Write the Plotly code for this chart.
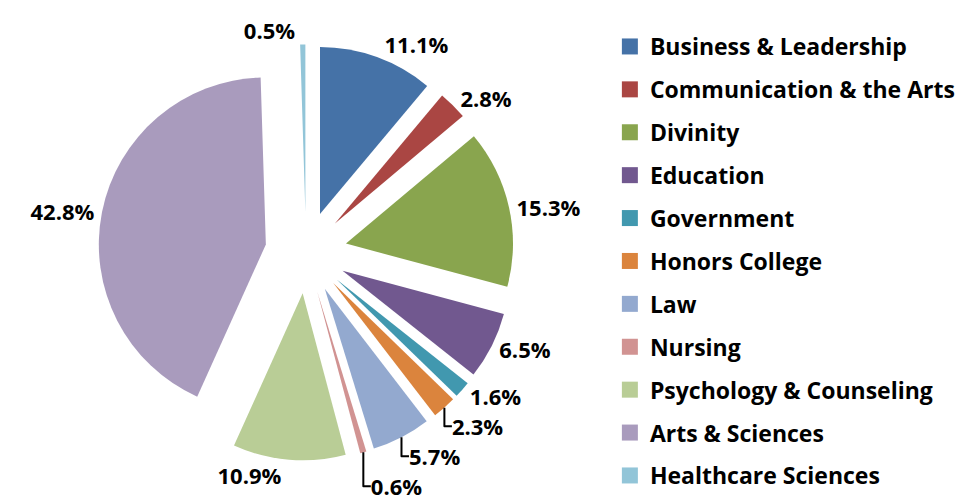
import plotly.graph_objects as go

# colleges, clockwise from 12 o'clock
colleges = [
    "Business & Leadership", "Communication & the Arts", "Divinity", "Education",
    "Government", "Honors College", "Law", "Nursing",
    "Psychology & Counseling", "Arts & Sciences", "Healthcare Sciences",
]
share_pct = [11.1, 2.8, 15.3, 6.5, 1.6, 2.3, 5.7, 0.6, 10.9, 42.8, 0.5]
colors = [
    "#4572A7", "#AA4643", "#89A54E", "#71588F", "#4198AF", "#DB843D",
    "#93A9CF", "#D19392", "#B9CD96", "#A99BBD", "#92C5D8",
]

FONT = "Open Sans"

fig = go.Figure()

fig.add_trace(go.Pie(
    labels=colleges,
    values=share_pct,
    sort=False,
    direction="clockwise",
    rotation=0,
    pull=[0.245] * len(colleges),
    marker=dict(colors=colors, line=dict(width=0)),
    texttemplate="%{value:.1f}%",
    textposition="outside",
    textfont=dict(family=FONT, size=22, color="black", weight="bold"),
    showlegend=False,
    domain=dict(x=[0.0935, 0.5254], y=[0.0987, 0.9274]),
    hovertemplate="<b>%{label}</b><br>%{value:.1f}%<extra></extra>",
))

# legend entries as dummy square markers, one group each for spacing
for name, col in zip(colleges, colors):
    fig.add_trace(go.Scatter(
        x=[None], y=[None],
        mode="markers",
        marker=dict(symbol="square", size=17, color=col),
        name=name,
        legendgroup=name,
        showlegend=True,
    ))

fig.update_layout(
    width=963, height=502,
    margin=dict(t=0, l=0, r=0, b=0, autoexpand=False),
    paper_bgcolor="white",
    plot_bgcolor="white",
    xaxis=dict(visible=False),
    yaxis=dict(visible=False),
    legend=dict(
        x=0.625, y=0.496, xanchor="left", yanchor="middle",
        traceorder="grouped",
        tracegroupgap=10,
        itemwidth=30,
        font=dict(family=FONT, size=23, color="black", weight="bold"),
    ),
    font=dict(family=FONT),
)

fig.write_html("out.html")
